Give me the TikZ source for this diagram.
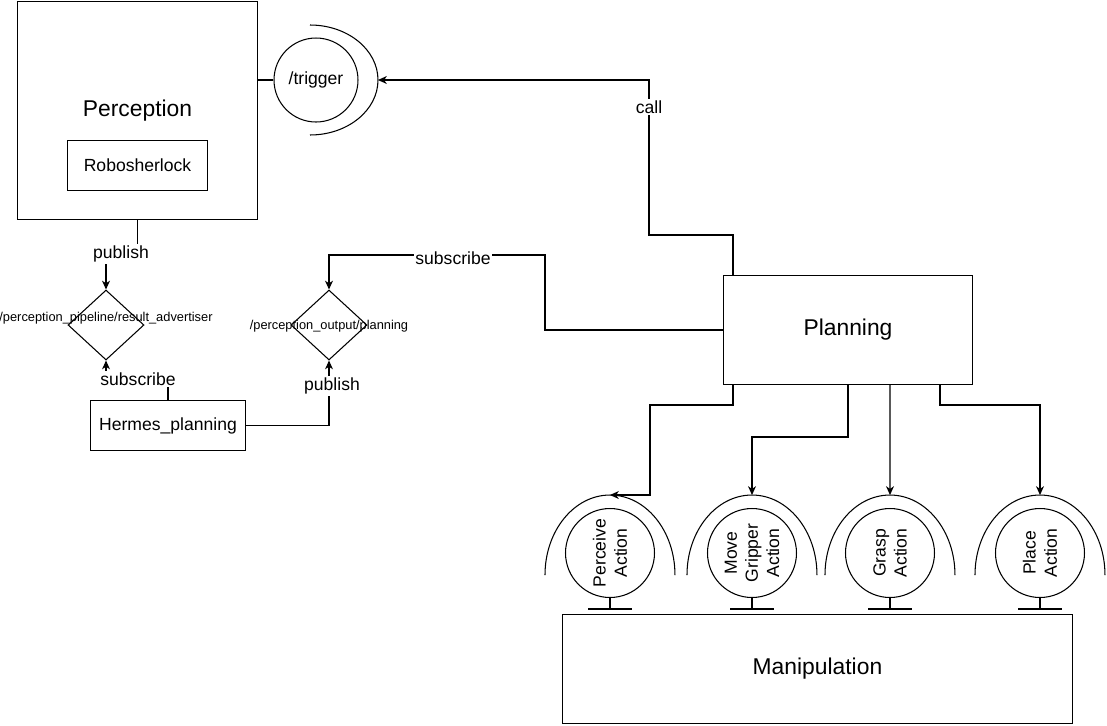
\documentclass[tikz,border=0pt]{standalone}
\usepackage{fontspec}
\setmainfont{Liberation Sans}
\usetikzlibrary{arrows.meta,positioning,calc,shapes.geometric}

\begin{document}
\begin{tikzpicture}[
  x=0.02cm, y=-0.02cm, line width=0.6pt,
  font=\fontsize{10}{12}\selectfont,
  box/.style={draw, rectangle, inner sep=0pt, anchor=north west},
  big/.style={font=\fontsize{13}{15}\selectfont},
  topic/.style={draw, diamond, inner sep=0pt, minimum width=1.52cm, minimum height=1.4cm},
  tiny/.style={font=\fontsize{7.3}{9}\selectfont},
  act/.style={draw, circle, inner sep=0pt, minimum size=1.78cm},
  lbl/.style={fill=white, inner sep=1pt},
  arr/.style={-{Stealth[length=5pt, width=4.5pt, inset=1.5pt]}}
]
\useasboundingbox (0,0) rectangle (1107,725);

\node[box, big, minimum width=4.8cm, minimum height=4.37cm] (perc) at (17,0.5) {Perception};
\node[box, minimum width=2.8cm, minimum height=1cm] (robo) at (67,140) {Robosherlock};
\node[box, minimum width=3.1cm, minimum height=1cm] (herm) at (90,400) {Hermes\_planning};
\node[box, big, minimum width=4.98cm, minimum height=2.18cm] (plan) at (723,275) {Planning};
\node[box, big, minimum width=10.2cm, minimum height=2.18cm] (manip) at (562,614) {Manipulation};

% service
\node[draw, circle, inner sep=0pt, minimum size=1.68cm] (trig) at (316,80) {/trigger};
\draw (310,25) arc[start angle=90, end angle=-90, x radius=1.36cm, y radius=1.1cm];
\coordinate (trig-in) at (378,80);
\draw (trig.west -| perc.east) -- (trig.west);

% topics
\node[topic] (res) at (106,325) {};
\node[tiny] (res-txt) at (106,318) {/perception\_pipeline/result\_advertiser};
\node[topic] (out) at (329,325) {};
\node[tiny] (out-txt) at (329,326) {/perception\_output/planning};

% actions
\foreach \nm/\x/\txt in {pa/610/{Perceive\\Action}, mg/752/{Move\\Gripper\\Action},
    gr/890/{Grasp\\Action}, pl/1040/{Place\\Action}} {
  \node[act] (\nm) at (\x,553) {};
  \node[rotate=90, align=center] (\nm-txt) at (\nm) {\txt};
  \draw (\x-65,575) arc[start angle=180, end angle=0, x radius=1.3cm, y radius=1.6cm];
  \coordinate (\nm-top) at (\x,495);
  \draw (\nm.south) -- (\x,609);
  \draw (\x-22,609) -- (\x+22,609);
}

\draw[arr] ($(plan.south west)+(10,0)$) |- (650,405) |- (pa-top);
\draw[arr] (plan.south) |- (752,437) -- (mg-top);
\draw[arr] ($(plan.south)+(42,0)$) -- (gr-top);
\draw[arr] ($(plan.south)+(92,0)$) |- (1040,405) -- (pl-top);
\draw[arr] ($(plan.north west)+(10,0)$) |- (649,235) |- (trig-in);
\draw[arr] (plan.west) -| (545,255) -| (out.north);
\draw[arr] (perc.south) |- (106,254) -- (res.north);
\draw[arr] (herm.north) |- (106,379) -- (res.south);
\draw[arr] (herm.east) -| (out.south);

\node[lbl] (call) at (649,107) {call};
\node[lbl] (sub-out) at (453,258) {subscribe};
\node[lbl] (pub-res) at (121,254) {publish};
\node[lbl] (sub-res) at (138,379) {subscribe};
\node[lbl] (pub-out) at (332,386) {publish};
\end{tikzpicture}
\end{document}
